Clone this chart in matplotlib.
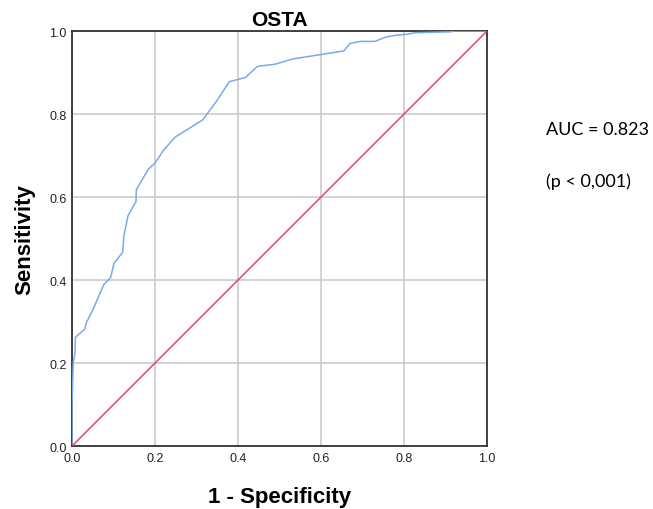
import matplotlib
matplotlib.use("Agg")
import matplotlib.pyplot as plt

plt.rcParams["font.family"] = ["Liberation Sans", "DejaVu Sans"]

# ROC curve points
fpr = [0.0, 0.0, 0.003, 0.007, 0.008, 0.031, 0.034, 0.051, 0.077, 0.093,
       0.101, 0.122, 0.125, 0.135, 0.154, 0.155, 0.184, 0.200, 0.220, 0.248,
       0.315, 0.349, 0.379, 0.418, 0.447, 0.489, 0.533, 0.598, 0.655, 0.670,
       0.694, 0.730, 0.758, 0.782, 0.807, 0.827, 0.911, 0.92, 1.0]
tpr = [0.0, 0.101, 0.202, 0.222, 0.262, 0.282, 0.296, 0.330, 0.390, 0.406,
       0.440, 0.467, 0.507, 0.555, 0.589, 0.618, 0.667, 0.682, 0.712, 0.744,
       0.786, 0.832, 0.878, 0.888, 0.915, 0.920, 0.933, 0.943, 0.952, 0.970,
       0.975, 0.975, 0.986, 0.990, 0.992, 0.996, 0.998, 1.0, 1.0]
ref_line = [0.0, 1.0]
ticks = [0.0, 0.2, 0.4, 0.6, 0.8, 1.0]
auc_text = "AUC = 0.823"
p_text = "(p < 0,001)"

fig = plt.figure(figsize=(6.53, 5.10), dpi=100)
ax = fig.add_axes([0.1103, 0.1235, 0.6355, 0.8137])

ax.plot(fpr, tpr, color="#78aaee", linewidth=1.1, zorder=3)
ax.plot(ref_line, ref_line, color="#dc4670", linewidth=1.1, zorder=3)

ax.set_xlim(0, 1)
ax.set_ylim(0, 1)
ax.set_xticks(ticks)
ax.set_yticks(ticks)
ax.set_xticklabels(["%.1f" % t for t in ticks])
ax.set_yticklabels(["%.1f" % t for t in ticks])
ax.tick_params(length=0, labelsize=9, pad=4, colors="#222222")
ax.grid(True, color="#cccccc", linewidth=1.2, zorder=0)
ax.set_axisbelow(True)
for s in ax.spines.values():
    s.set_color("#333333")
    s.set_linewidth(1.3)

ax.set_title("OSTA", fontsize=15, fontweight="bold", pad=4)
ax.set_xlabel("1 - Specificity", fontsize=16, fontweight="bold", labelpad=16)
ax.set_ylabel("Sensitivity", fontsize=16, fontweight="bold", labelpad=10)

fig.text(546 / 653, 1 - 130 / 510, auc_text, fontsize=13, family="Lato",
         va="center", ha="left")
fig.text(546 / 653, 1 - 182 / 510, p_text, fontsize=13, family="Lato",
         va="center", ha="left")

fig.savefig("out.png", dpi=100)
